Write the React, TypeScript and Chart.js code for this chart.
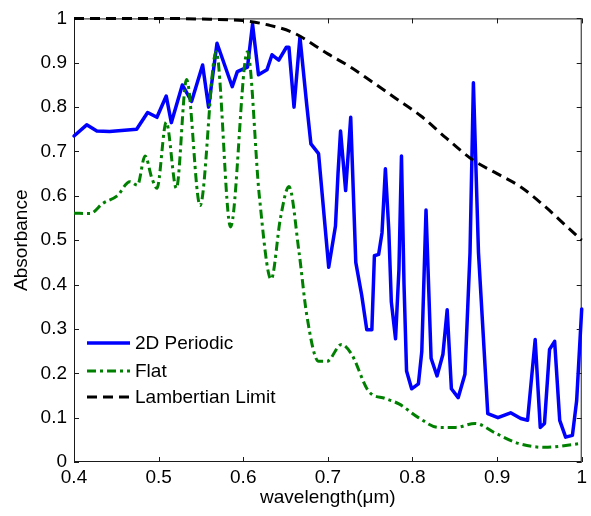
import React, { useEffect, useRef } from "react";
import { Chart, registerables } from "chart.js";

Chart.register(...registerables);

// ---------- data ----------
const seriesNames = ["2D Periodic", "Flat", "Lambertian Limit"];

const periodicX = [0.4, 0.415, 0.427, 0.442, 0.474, 0.487, 0.498, 0.509, 0.515, 0.528, 0.539, 0.552, 0.559, 0.569, 0.587, 0.593, 0.605, 0.611, 0.618, 0.628, 0.634, 0.642, 0.651, 0.654, 0.66, 0.667, 0.675, 0.68, 0.689, 0.701, 0.709, 0.712, 0.715, 0.721, 0.727, 0.733, 0.74, 0.746, 0.752, 0.755, 0.76, 0.764, 0.768, 0.772, 0.775, 0.78, 0.784, 0.787, 0.79, 0.793, 0.799, 0.807, 0.811, 0.816, 0.822, 0.829, 0.836, 0.841, 0.846, 0.854, 0.862, 0.868, 0.872, 0.878, 0.889, 0.901, 0.916, 0.928, 0.936, 0.945, 0.951, 0.956, 0.962, 0.968, 0.974, 0.981, 0.989, 0.994, 1.0];
const periodicY = [0.735, 0.76, 0.746, 0.745, 0.75, 0.788, 0.777, 0.825, 0.765, 0.85, 0.813, 0.895, 0.8, 0.944, 0.846, 0.88, 0.89, 0.987, 0.873, 0.884, 0.918, 0.906, 0.935, 0.935, 0.8, 0.958, 0.806, 0.717, 0.695, 0.439, 0.532, 0.65, 0.746, 0.612, 0.777, 0.45, 0.376, 0.298, 0.298, 0.465, 0.468, 0.517, 0.661, 0.523, 0.361, 0.278, 0.434, 0.69, 0.4, 0.205, 0.165, 0.176, 0.249, 0.568, 0.234, 0.194, 0.243, 0.343, 0.165, 0.145, 0.198, 0.472, 0.855, 0.472, 0.109, 0.1, 0.111, 0.098, 0.094, 0.276, 0.078, 0.087, 0.254, 0.272, 0.094, 0.056, 0.06, 0.138, 0.345];

const flatX = [0.4, 0.419, 0.434, 0.451, 0.466, 0.475, 0.484, 0.492, 0.498, 0.509, 0.521, 0.533, 0.549, 0.568, 0.585, 0.605, 0.619, 0.633, 0.644, 0.654, 0.666, 0.675, 0.689, 0.699, 0.716, 0.728, 0.748, 0.768, 0.784, 0.807, 0.831, 0.851, 0.874, 0.898, 0.925, 0.956, 1.0];
const flatY = [0.561, 0.56, 0.583, 0.6, 0.632, 0.624, 0.69, 0.64, 0.617, 0.766, 0.617, 0.862, 0.578, 0.925, 0.53, 0.925, 0.6, 0.412, 0.55, 0.621, 0.472, 0.332, 0.227, 0.227, 0.265, 0.243, 0.16, 0.143, 0.131, 0.1, 0.078, 0.078, 0.087, 0.065, 0.042, 0.033, 0.042];

const lambertX = [0.4, 0.5, 0.56, 0.6, 0.63, 0.66, 0.7, 0.727, 0.75, 0.78, 0.81, 0.84, 0.872, 0.9, 0.928, 0.956, 0.98, 1.0];
const lambertY = [1.0, 1.0, 0.998, 0.995, 0.985, 0.967, 0.92, 0.89, 0.86, 0.82, 0.78, 0.73, 0.68, 0.65, 0.62, 0.577, 0.535, 0.5];

const xTickValues = [0.4, 0.5, 0.6, 0.7, 0.8, 0.9, 1.0];
const yTickValues = [0, 0.1, 0.2, 0.3, 0.4, 0.5, 0.6, 0.7, 0.8, 0.9, 1.0];

const xTitle = "wavelength(\u03bcm)";
const yTitle = "Absorbance";

const FONT = "'Liberation Sans', Arial, sans-serif";

const toPoints = (xs: number[], ys: number[]) => xs.map((x, i) => ({ x, y: ys[i] }));
const fmt = (v: number) => String(Number(Number(v).toFixed(1)));

const framePlugin = {
  id: "frame",
  beforeDatasetsDraw(chart: any) {
    const { ctx, chartArea } = chart;
    const { left, right, top, bottom } = chartArea;
    const xs = chart.scales.x;
    const ys = chart.scales.y;
    ctx.save();
    ctx.strokeStyle = "#1a1a1a";
    ctx.lineWidth = 1;
    ctx.strokeRect(left + 0.5, top + 0.5, right - left - 1, bottom - top - 1);
    const tl = 5;
    ctx.beginPath();
    xTickValues.forEach((v) => {
      const px = Math.round(xs.getPixelForValue(v)) + 0.5;
      ctx.moveTo(px, bottom);
      ctx.lineTo(px, bottom - tl);
      ctx.moveTo(px, top);
      ctx.lineTo(px, top + tl);
    });
    yTickValues.forEach((v) => {
      const py = Math.round(ys.getPixelForValue(v)) + 0.5;
      ctx.moveTo(left, py);
      ctx.lineTo(left + tl, py);
      ctx.moveTo(right, py);
      ctx.lineTo(right - tl, py);
    });
    ctx.stroke();
    ctx.restore();
  },
  afterDatasetsDraw(chart: any) {
    const { ctx, chartArea } = chart;
    const x0 = chartArea.left + 13;
    const x1 = x0 + 43;
    const rows = [343, 371, 397];
    ctx.save();
    chart.data.datasets.forEach((ds: any, i: number) => {
      const yy = rows[i];
      ctx.beginPath();
      ctx.strokeStyle = ds.borderColor;
      ctx.lineWidth = ds.borderWidth;
      ctx.setLineDash(ds.borderDash || []);
      ctx.moveTo(x0, yy);
      ctx.lineTo(x1, yy);
      ctx.stroke();
      ctx.setLineDash([]);
      ctx.fillStyle = "#000";
      ctx.font = `19px ${FONT}`;
      ctx.textBaseline = "middle";
      ctx.textAlign = "left";
      ctx.fillText(ds.label, x1 + 5, yy + 1);
    });
    ctx.restore();
  },
};

export default function App() {
  const ref = useRef<HTMLCanvasElement | null>(null);

  useEffect(() => {
    if (!ref.current) return;
    const chart = new Chart(ref.current, {
      type: "line",
      data: {
        datasets: [
          {
            label: seriesNames[0],
            data: toPoints(periodicX, periodicY),
            borderColor: "#0000ff",
            borderWidth: 3.5,
            borderJoinStyle: "round",
            borderCapStyle: "round",
            pointRadius: 0,
            tension: 0,
            order: 3,
            clip: false as any,
          },
          {
            label: seriesNames[1],
            data: toPoints(flatX, flatY),
            borderColor: "#008000",
            borderWidth: 3,
            borderDash: [9, 4, 3, 4],
            pointRadius: 0,
            cubicInterpolationMode: "monotone",
            order: 2,
            clip: false as any,
          },
          {
            label: seriesNames[2],
            data: toPoints(lambertX, lambertY),
            borderColor: "#000000",
            borderWidth: 3,
            borderDash: [10, 6],
            pointRadius: 0,
            cubicInterpolationMode: "monotone",
            order: 1,
            clip: false as any,
          },
        ],
      },
      options: {
        responsive: false,
        animation: false,
        layout: { padding: { left: 0, top: 13, right: 7, bottom: 0 } },
        plugins: { legend: { display: false }, tooltip: { enabled: false } },
        scales: {
          x: {
            type: "linear",
            min: 0.4,
            max: 1.0,
            afterBuildTicks: (s: any) => {
              s.ticks = xTickValues.map((value) => ({ value }));
            },
            afterFit: (s: any) => {
              s.height = 54;
            },
            grid: { display: false, drawTicks: false },
            border: { display: false },
            ticks: {
              color: "#000",
              padding: 4,
              maxRotation: 0,
              autoSkip: false,
              font: { family: FONT, size: 19 },
              callback: (v: any) => fmt(v),
            },
            title: {
              display: true,
              text: xTitle,
              color: "#000",
              font: { family: FONT, size: 19 },
              padding: { top: 0, bottom: 7 },
            },
          },
          y: {
            type: "linear",
            min: 0,
            max: 1,
            afterBuildTicks: (s: any) => {
              s.ticks = yTickValues.map((value) => ({ value }));
            },
            afterFit: (s: any) => {
              s.width = 74;
            },
            grid: { display: false, drawTicks: false },
            border: { display: false },
            ticks: {
              color: "#000",
              padding: 7,
              autoSkip: false,
              font: { family: FONT, size: 19 },
              callback: (v: any) => fmt(v),
            },
            title: {
              display: true,
              text: yTitle,
              color: "#000",
              font: { family: FONT, size: 19 },
              padding: { top: 10, bottom: 0 },
            },
          },
        },
      },
      plugins: [framePlugin],
    } as any);
    return () => chart.destroy();
  }, []);

  return (
    <div style={{ position: "absolute", left: 0, top: 0, width: 591, height: 516, background: "#fff" }}>
      <canvas ref={ref} width={591} height={516} style={{ width: 591, height: 516 }} />
    </div>
  );
}
